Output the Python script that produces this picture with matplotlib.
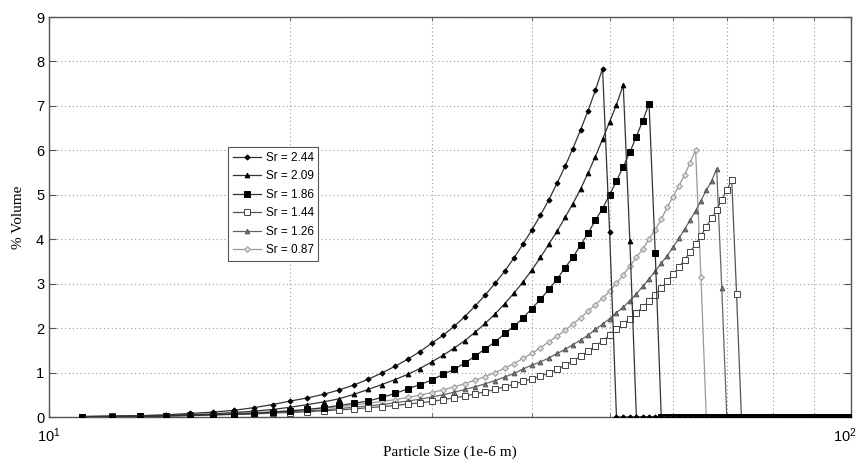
import matplotlib
matplotlib.use("Agg")
import matplotlib.pyplot as plt
import matplotlib.transforms as mtransforms
from matplotlib.ticker import LogLocator, NullFormatter

plt.rcParams['mathtext.default'] = 'regular'

# Particle sizes (micron), one point per 1 um
sizes = list(range(11, 101))

# % volume for each Sr value (non-zero part, rest of the range is 0)
sr244 = [0.01, 0.02, 0.03, 0.05, 0.08, 0.11, 0.15, 0.21, 0.28, 0.36,
         0.43, 0.51, 0.61, 0.72, 0.85, 0.99, 1.14, 1.30, 1.47, 1.66,
         1.84, 2.04, 2.26, 2.50, 2.75, 3.01, 3.28, 3.58, 3.89, 4.21,
         4.54, 4.89, 5.26, 5.64, 6.04, 6.46, 6.89, 7.35, 7.84, 4.17]
sr209 = [0.005, 0.01, 0.02, 0.03, 0.05, 0.07, 0.10, 0.13, 0.17, 0.22,
         0.28, 0.34, 0.41, 0.51, 0.62, 0.73, 0.84, 0.96, 1.09, 1.24,
         1.39, 1.55, 1.72, 1.91, 2.11, 2.32, 2.55, 2.79, 3.04, 3.31,
         3.59, 3.89, 4.18, 4.49, 4.80, 5.13, 5.49, 5.86, 6.25, 6.64,
         7.03, 7.47, 3.95]
sr186 = [0.005, 0.01, 0.015, 0.02, 0.03, 0.05, 0.06, 0.08, 0.11, 0.14,
         0.17, 0.21, 0.26, 0.31, 0.36, 0.44, 0.53, 0.63, 0.73, 0.83,
         0.96, 1.07, 1.22, 1.37, 1.54, 1.69, 1.88, 2.04, 2.23, 2.44,
         2.65, 2.87, 3.10, 3.36, 3.59, 3.87, 4.13, 4.43, 4.69, 5.00,
         5.31, 5.63, 5.96, 6.31, 6.67, 7.05, 3.70]
sr144 = [0.01, 0.015, 0.02, 0.03, 0.04, 0.05, 0.06, 0.07, 0.09, 0.10,
         0.12, 0.14, 0.16, 0.18, 0.21, 0.23, 0.26, 0.29, 0.32, 0.35,
         0.39, 0.43, 0.47, 0.52, 0.57, 0.62, 0.68, 0.74, 0.80, 0.86,
         0.92, 0.99, 1.07, 1.17, 1.26, 1.37, 1.48, 1.59, 1.71, 1.84,
         1.97, 2.09, 2.21, 2.35, 2.47, 2.61, 2.75, 2.90, 3.06, 3.21,
         3.37, 3.54, 3.71, 3.89, 4.08, 4.28, 4.47, 4.66, 4.89, 5.10,
         5.33, 2.76]
sr126 = [0.01, 0.015, 0.02, 0.03, 0.04, 0.05, 0.07, 0.08, 0.10, 0.12,
         0.14, 0.16, 0.19, 0.22, 0.25, 0.28, 0.32, 0.36, 0.40, 0.45,
         0.50, 0.56, 0.62, 0.68, 0.75, 0.82, 0.90, 0.98, 1.08, 1.17,
         1.24, 1.33, 1.43, 1.52, 1.63, 1.73, 1.84, 1.97, 2.09, 2.21,
         2.35, 2.47, 2.62, 2.77, 2.94, 3.11, 3.28, 3.46, 3.63, 3.82,
         4.02, 4.22, 4.43, 4.64, 4.87, 5.10, 5.31, 5.58, 2.90]
sr087 = [0.01, 0.02, 0.03, 0.04, 0.05, 0.06, 0.08, 0.10, 0.12, 0.14,
         0.17, 0.20, 0.23, 0.27, 0.31, 0.35, 0.39, 0.44, 0.49, 0.55,
         0.61, 0.68, 0.75, 0.83, 0.91, 1.00, 1.10, 1.20, 1.32, 1.43,
         1.56, 1.69, 1.82, 1.95, 2.09, 2.23, 2.38, 2.53, 2.67, 2.83,
         3.01, 3.20, 3.39, 3.59, 3.78, 4.01, 4.21, 4.45, 4.72, 4.96,
         5.20, 5.44, 5.72, 6.01, 3.14]

labels = ['Sr = 2.44', 'Sr = 2.09', 'Sr = 1.86', 'Sr = 1.44', 'Sr = 1.26', 'Sr = 0.87']
series = [sr244, sr209, sr186, sr144, sr126, sr087]

# line colour, marker, marker size, marker face, marker edge
styles = [
    ('#333333', 'D', 2.6, 'black', 'black'),
    ('#333333', '^', 3.4, 'black', 'black'),
    ('#333333', 's', 4.2, 'black', 'black'),
    ('#555555', 's', 4.2, 'white', '#444444'),
    ('#666666', '^', 3.4, '#777777', '#555555'),
    ('#999999', 'D', 3.0, '#dddddd', '#999999'),
]

fig = plt.figure(figsize=(8.61, 4.65), dpi=100)
ax = fig.add_axes([0.0569, 0.1032, 0.9315, 0.8602])

# the dark series sit on top of the grey ones
n = len(series)
for i, (vals, lab, (lc, mk, ms, mfc, mec)) in enumerate(zip(series, labels, styles)):
    y = vals + [0.0] * (len(sizes) - len(vals))
    ax.plot(sizes, y, color=lc, lw=0.9, marker=mk, ms=ms,
            mfc=mfc, mec=mec, mew=0.7, label=lab, zorder=3 + n - i)

ax.set_xscale('log')
ax.set_xlim(10, 100)
ax.set_ylim(0, 9)
ax.set_yticks(range(0, 10))
ax.xaxis.set_major_locator(LogLocator(base=10, numticks=5))
ax.xaxis.set_minor_locator(LogLocator(base=10, subs=range(2, 10), numticks=20))
ax.xaxis.set_minor_formatter(NullFormatter())

ax.grid(True, which='both', axis='both', linestyle=(0, (1, 2.5)),
        color='#999999', lw=0.8)
ax.tick_params(which='both', direction='in', top=True, right=True,
               color='#555555', labelsize=10.5)
ax.tick_params(which='major', length=5)
ax.tick_params(which='minor', length=3)
ax.tick_params(axis='x', pad=7)
for sp in ax.spines.values():
    sp.set_color('#555555')
    sp.set_linewidth(1.0)

for t in ax.get_xticklabels() + ax.get_yticklabels():
    t.set_fontfamily('Liberation Sans')

# keep the 10^2 label inside the figure, as in the original
fig.canvas.draw()
xlabs = ax.get_xticklabels()
shift = mtransforms.ScaledTranslation(-6 / 100, 0, fig.dpi_scale_trans)
for t in xlabs:
    if '2' in t.get_text():
        t.set_transform(t.get_transform() + shift)

ax.set_xlabel('Particle Size (1e-6 m)', family='Liberation Serif', fontsize=11, labelpad=0)
ax.set_ylabel('% Volume', family='Liberation Serif', fontsize=11, labelpad=8)

leg = ax.legend(loc='upper left', bbox_to_anchor=(0.223, 0.675),
                borderaxespad=0, fancybox=False, framealpha=1,
                edgecolor='#555555', prop={'family': 'Liberation Sans', 'size': 8.5},
                handlelength=2.4, labelspacing=0.55, borderpad=0.4,
                handletextpad=0.4)
leg.get_frame().set_linewidth(0.8)
leg.set_zorder(20)

fig.savefig('out.png', dpi=100, facecolor='white')
